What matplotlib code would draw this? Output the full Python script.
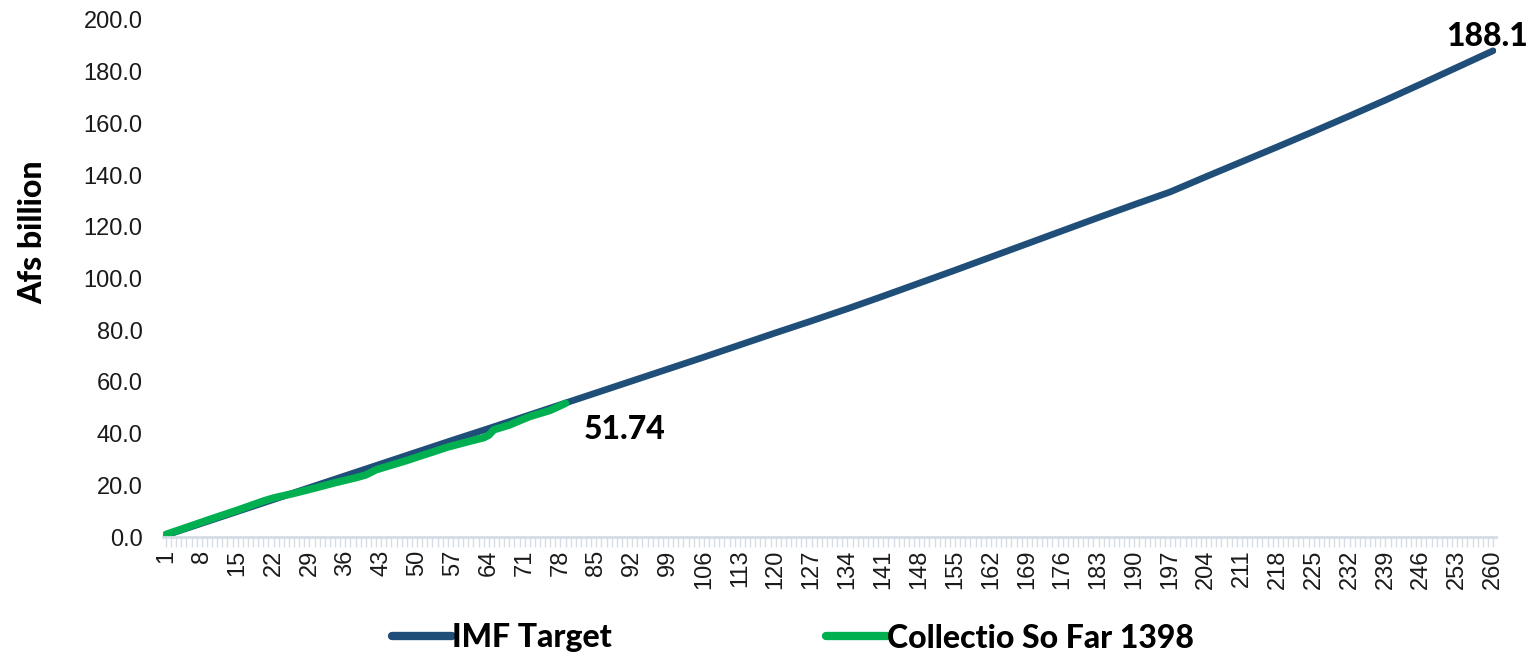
"""IMF target vs collection so far, 1398"""

import matplotlib
matplotlib.use("Agg")
import matplotlib.pyplot as plt
from matplotlib.ticker import FixedLocator, FuncFormatter

# IMF target, read at every 7th day
TARGET_DAYS = [1, 8, 15, 22, 29, 36, 43, 50, 57, 64, 71, 78, 85, 92, 99, 106,
               113, 120, 127, 134, 141, 148, 155, 162, 169, 176, 183, 190, 197,
               204, 211, 218, 225, 232, 239, 246, 253, 260]
TARGET_VALUES = [0.7, 5.3, 9.9, 14.5, 19.1, 23.7, 28.3, 32.9, 37.5, 42.0, 46.6,
                 51.2, 55.8, 60.4, 65.0, 69.6, 74.3, 79.0, 83.6, 88.3, 93.2,
                 98.2, 103.2, 108.3, 113.4, 118.5, 123.6, 128.6, 133.5, 139.4,
                 145.2, 151.0, 156.9, 162.9, 169.0, 175.3, 181.7, 188.1]

# collection so far
COLLECT_DAYS = [1, 5, 10, 15, 20, 22, 26, 30, 34, 38, 40, 42, 44, 48, 52, 56,
                60, 63, 64, 65, 68, 71, 72, 76, 79]
COLLECT_VALUES = [1.0, 3.7, 7.1, 10.4, 13.9, 15.1, 16.9, 18.9, 21.0, 22.9, 24.0,
                  26.0, 27.2, 29.6, 32.2, 34.8, 36.9, 38.4, 39.4, 41.5, 43.3,
                  45.8, 46.6, 49.0, 51.74]

N_DAYS = 260
BLUE = "#1F4E79"
GREEN = "#00B050"
AXIS_COLOR = "#D6DCE5"
BOLD_FONT = ["Lato", "DejaVu Sans"]

plt.rcParams["font.family"] = ["Liberation Sans", "DejaVu Sans"]

fig = plt.figure(figsize=(15.39, 6.57), dpi=100)
ax = fig.add_axes([163.4 / 1539, 1 - 537 / 657, (1495.6 - 163.4) / 1539, 517 / 657])

ax.plot(TARGET_DAYS, TARGET_VALUES, color=BLUE, lw=4.8,
        solid_capstyle="round", solid_joinstyle="round", label="IMF Target")
ax.plot(COLLECT_DAYS, COLLECT_VALUES, color=GREEN, lw=5.4,
        solid_capstyle="round", solid_joinstyle="round",
        label="Collectio So Far 1398")

ax.set_xlim(0.5, N_DAYS + 0.5)
ax.set_ylim(0, 200)
ax.set_yticks(range(0, 201, 20))
ax.yaxis.set_major_formatter(FuncFormatter(lambda v, _: f"{v:.1f}"))

ax.xaxis.set_major_locator(FixedLocator(list(range(1, N_DAYS + 1, 7))))
ax.xaxis.set_minor_locator(FixedLocator(list(range(1, N_DAYS + 1))))
ax.xaxis.set_major_formatter(FuncFormatter(lambda v, _: f"{int(v)}"))

for s in ["top", "right", "left"]:
    ax.spines[s].set_visible(False)
ax.spines["bottom"].set_color(AXIS_COLOR)
ax.spines["bottom"].set_linewidth(2)

ax.tick_params(axis="y", length=0, labelsize=17, pad=15, labelcolor="#1a1a1a")
ax.tick_params(axis="x", which="both", length=7, width=1, color=AXIS_COLOR,
               direction="out", labelsize=17, labelrotation=90, pad=2,
               labelcolor="#1a1a1a")

fig.text(33 / 1539, 1 - 232 / 657, "Afs billion", rotation=90, ha="center",
         va="center", fontsize=23, fontweight="black", family=BOLD_FONT)

ax.annotate(f"{COLLECT_VALUES[-1]:.2f}", (COLLECT_DAYS[-1], COLLECT_VALUES[-1]),
            xytext=(13, -19), textcoords="offset points", fontsize=23,
            fontweight="black", family=BOLD_FONT, ha="left", va="center")
ax.annotate(f"{TARGET_VALUES[-1]:.1f}", (TARGET_DAYS[-1], TARGET_VALUES[-1]),
            xytext=(-4, 10), textcoords="offset points", fontsize=23,
            fontweight="black", family=BOLD_FONT, ha="center", va="center",
            annotation_clip=False)

leg = fig.legend(loc="center", bbox_to_anchor=(0.515, 1 - 638 / 657), ncol=2,
                 frameon=False, columnspacing=6.7, handlelength=1.9,
                 handletextpad=0,
                 prop={"family": BOLD_FONT, "weight": "black", "size": 23})
for line in leg.get_lines():
    line.set_linewidth(6)
    line.set_solid_capstyle("round")

fig.savefig("out.png", dpi=100)
